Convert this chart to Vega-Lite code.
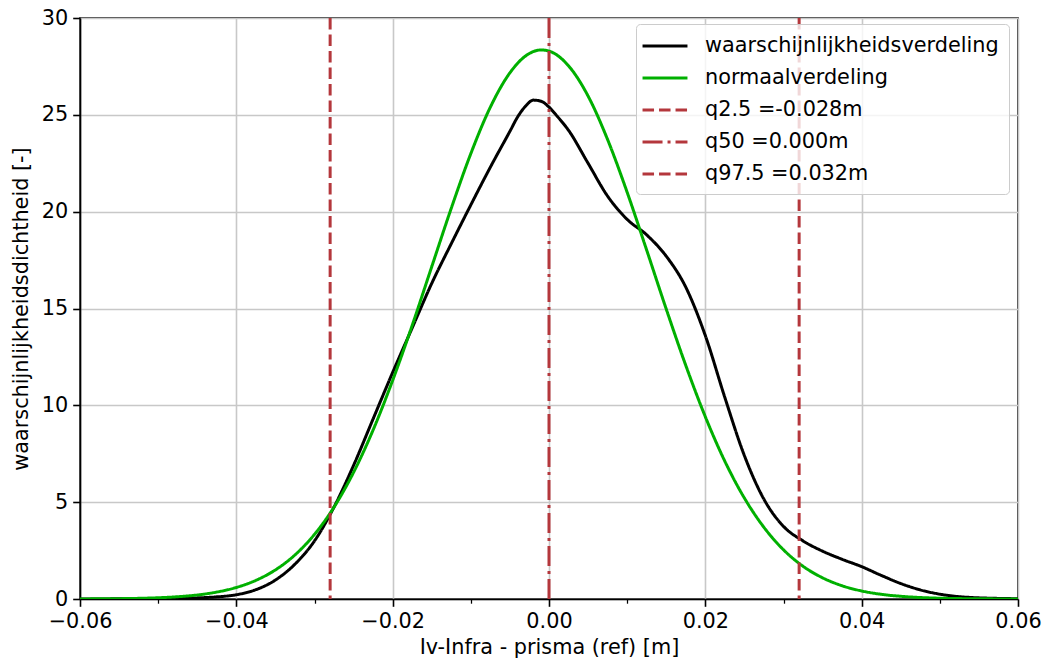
{
  "$schema": "https://vega.github.io/schema/vega-lite/v6.json",
  "width": 938,
  "height": 581,
  "autosize": {"type": "none"},
  "padding": {"left": 80, "top": 18, "right": 27, "bottom": 65},
  "background": "white",
  "config": {
    "view": {"stroke": "black", "strokeWidth": 1.6},
    "axis": {
      "domainColor": "black", "domainWidth": 1.6,
      "tickColor": "black", "tickWidth": 1.6,
      "gridColor": "#c8c8c8", "gridWidth": 1.6,
      "labelFont": "DejaVu Sans", "labelFontSize": 20.8, "labelColor": "black",
      "titleFont": "DejaVu Sans", "titleFontSize": 20.8, "titleFontWeight": "normal", "titleColor": "black"
    },
    "legend": {
      "orient": "none", "legendX": 556, "legendY": 6, "padding": 10,
      "fillColor": "rgba(255,255,255,0.8)", "strokeColor": "#cccccc", "cornerRadius": 4,
      "labelFont": "DejaVu Sans", "labelFontSize": 20.8, "labelColor": "black", "labelLimit": 500,
      "symbolType": "M-2.14,0L2.14,0", "symbolSize": 441, "symbolStrokeWidth": 3,
      "symbolOffset": 7, "labelOffset": 28, "rowPadding": 10
    }
  },
  "layer": [
    {
      "data": {"values": [
        {"series": "waarschijnlijkheidsverdeling", "x": -0.06, "y": 0.003},
        {"series": "waarschijnlijkheidsverdeling", "x": -0.0575, "y": 0.005},
        {"series": "waarschijnlijkheidsverdeling", "x": -0.055, "y": 0.008},
        {"series": "waarschijnlijkheidsverdeling", "x": -0.0525, "y": 0.013},
        {"series": "waarschijnlijkheidsverdeling", "x": -0.05, "y": 0.02},
        {"series": "waarschijnlijkheidsverdeling", "x": -0.0475, "y": 0.035},
        {"series": "waarschijnlijkheidsverdeling", "x": -0.045, "y": 0.06},
        {"series": "waarschijnlijkheidsverdeling", "x": -0.0425, "y": 0.11},
        {"series": "waarschijnlijkheidsverdeling", "x": -0.04, "y": 0.22},
        {"series": "waarschijnlijkheidsverdeling", "x": -0.0375, "y": 0.48},
        {"series": "waarschijnlijkheidsverdeling", "x": -0.035, "y": 0.98},
        {"series": "waarschijnlijkheidsverdeling", "x": -0.0325, "y": 1.8},
        {"series": "waarschijnlijkheidsverdeling", "x": -0.03, "y": 3.0},
        {"series": "waarschijnlijkheidsverdeling", "x": -0.0275, "y": 4.75},
        {"series": "waarschijnlijkheidsverdeling", "x": -0.025, "y": 6.9},
        {"series": "waarschijnlijkheidsverdeling", "x": -0.0225, "y": 9.3},
        {"series": "waarschijnlijkheidsverdeling", "x": -0.02, "y": 11.7},
        {"series": "waarschijnlijkheidsverdeling", "x": -0.0175, "y": 14.0},
        {"series": "waarschijnlijkheidsverdeling", "x": -0.015, "y": 16.3},
        {"series": "waarschijnlijkheidsverdeling", "x": -0.0125, "y": 18.35},
        {"series": "waarschijnlijkheidsverdeling", "x": -0.01, "y": 20.35},
        {"series": "waarschijnlijkheidsverdeling", "x": -0.0075, "y": 22.3},
        {"series": "waarschijnlijkheidsverdeling", "x": -0.005, "y": 24.15},
        {"series": "waarschijnlijkheidsverdeling", "x": -0.004, "y": 24.9},
        {"series": "waarschijnlijkheidsverdeling", "x": -0.003, "y": 25.45},
        {"series": "waarschijnlijkheidsverdeling", "x": -0.002, "y": 25.76},
        {"series": "waarschijnlijkheidsverdeling", "x": -0.001, "y": 25.7},
        {"series": "waarschijnlijkheidsverdeling", "x": 0.0, "y": 25.4},
        {"series": "waarschijnlijkheidsverdeling", "x": 0.001, "y": 24.95},
        {"series": "waarschijnlijkheidsverdeling", "x": 0.0025, "y": 24.2},
        {"series": "waarschijnlijkheidsverdeling", "x": 0.005, "y": 22.5},
        {"series": "waarschijnlijkheidsverdeling", "x": 0.0075, "y": 20.8},
        {"series": "waarschijnlijkheidsverdeling", "x": 0.01, "y": 19.6},
        {"series": "waarschijnlijkheidsverdeling", "x": 0.0125, "y": 18.8},
        {"series": "waarschijnlijkheidsverdeling", "x": 0.015, "y": 17.7},
        {"series": "waarschijnlijkheidsverdeling", "x": 0.0175, "y": 16.1},
        {"series": "waarschijnlijkheidsverdeling", "x": 0.02, "y": 13.6},
        {"series": "waarschijnlijkheidsverdeling", "x": 0.0225, "y": 10.4},
        {"series": "waarschijnlijkheidsverdeling", "x": 0.025, "y": 7.4},
        {"series": "waarschijnlijkheidsverdeling", "x": 0.0275, "y": 5.15},
        {"series": "waarschijnlijkheidsverdeling", "x": 0.03, "y": 3.75},
        {"series": "waarschijnlijkheidsverdeling", "x": 0.0325, "y": 3.0},
        {"series": "waarschijnlijkheidsverdeling", "x": 0.035, "y": 2.47},
        {"series": "waarschijnlijkheidsverdeling", "x": 0.0375, "y": 2.05},
        {"series": "waarschijnlijkheidsverdeling", "x": 0.04, "y": 1.67},
        {"series": "waarschijnlijkheidsverdeling", "x": 0.0425, "y": 1.22},
        {"series": "waarschijnlijkheidsverdeling", "x": 0.045, "y": 0.8},
        {"series": "waarschijnlijkheidsverdeling", "x": 0.0475, "y": 0.47},
        {"series": "waarschijnlijkheidsverdeling", "x": 0.05, "y": 0.25},
        {"series": "waarschijnlijkheidsverdeling", "x": 0.0525, "y": 0.12},
        {"series": "waarschijnlijkheidsverdeling", "x": 0.055, "y": 0.06},
        {"series": "waarschijnlijkheidsverdeling", "x": 0.0575, "y": 0.03},
        {"series": "waarschijnlijkheidsverdeling", "x": 0.06, "y": 0.015},
        {"series": "normaalverdeling", "x": -0.06, "y": 0.004},
        {"series": "normaalverdeling", "x": -0.0575, "y": 0.009},
        {"series": "normaalverdeling", "x": -0.055, "y": 0.017},
        {"series": "normaalverdeling", "x": -0.0525, "y": 0.034},
        {"series": "normaalverdeling", "x": -0.05, "y": 0.064},
        {"series": "normaalverdeling", "x": -0.0475, "y": 0.118},
        {"series": "normaalverdeling", "x": -0.045, "y": 0.208},
        {"series": "normaalverdeling", "x": -0.0425, "y": 0.358},
        {"series": "normaalverdeling", "x": -0.04, "y": 0.597},
        {"series": "normaalverdeling", "x": -0.0375, "y": 0.963},
        {"series": "normaalverdeling", "x": -0.035, "y": 1.503},
        {"series": "normaalverdeling", "x": -0.0325, "y": 2.276},
        {"series": "normaalverdeling", "x": -0.03, "y": 3.34},
        {"series": "normaalverdeling", "x": -0.0275, "y": 4.746},
        {"series": "normaalverdeling", "x": -0.025, "y": 6.54},
        {"series": "normaalverdeling", "x": -0.0225, "y": 8.73},
        {"series": "normaalverdeling", "x": -0.02, "y": 11.29},
        {"series": "normaalverdeling", "x": -0.0175, "y": 14.13},
        {"series": "normaalverdeling", "x": -0.015, "y": 17.16},
        {"series": "normaalverdeling", "x": -0.0125, "y": 20.18},
        {"series": "normaalverdeling", "x": -0.01, "y": 23.0},
        {"series": "normaalverdeling", "x": -0.0075, "y": 25.4},
        {"series": "normaalverdeling", "x": -0.005, "y": 27.17},
        {"series": "normaalverdeling", "x": -0.0025, "y": 28.17},
        {"series": "normaalverdeling", "x": -0.001, "y": 28.35},
        {"series": "normaalverdeling", "x": 0.0, "y": 28.29},
        {"series": "normaalverdeling", "x": 0.0025, "y": 27.53},
        {"series": "normaalverdeling", "x": 0.005, "y": 25.97},
        {"series": "normaalverdeling", "x": 0.0075, "y": 23.72},
        {"series": "normaalverdeling", "x": 0.01, "y": 21.0},
        {"series": "normaalverdeling", "x": 0.0125, "y": 18.01},
        {"series": "normaalverdeling", "x": 0.015, "y": 14.97},
        {"series": "normaalverdeling", "x": 0.0175, "y": 12.06},
        {"series": "normaalverdeling", "x": 0.02, "y": 9.41},
        {"series": "normaalverdeling", "x": 0.0225, "y": 7.11},
        {"series": "normaalverdeling", "x": 0.025, "y": 5.21},
        {"series": "normaalverdeling", "x": 0.0275, "y": 3.7},
        {"series": "normaalverdeling", "x": 0.03, "y": 2.54},
        {"series": "normaalverdeling", "x": 0.0325, "y": 1.69},
        {"series": "normaalverdeling", "x": 0.035, "y": 1.094},
        {"series": "normaalverdeling", "x": 0.0375, "y": 0.684},
        {"series": "normaalverdeling", "x": 0.04, "y": 0.415},
        {"series": "normaalverdeling", "x": 0.0425, "y": 0.243},
        {"series": "normaalverdeling", "x": 0.045, "y": 0.139},
        {"series": "normaalverdeling", "x": 0.0475, "y": 0.076},
        {"series": "normaalverdeling", "x": 0.05, "y": 0.041},
        {"series": "normaalverdeling", "x": 0.0525, "y": 0.021},
        {"series": "normaalverdeling", "x": 0.055, "y": 0.011},
        {"series": "normaalverdeling", "x": 0.0575, "y": 0.005},
        {"series": "normaalverdeling", "x": 0.06, "y": 0.002}
      ]},
      "mark": {"type": "line", "strokeWidth": 3, "interpolate": "monotone", "clip": true},
      "encoding": {
        "x": {
          "field": "x", "type": "quantitative",
          "scale": {"domain": [-0.06, 0.06], "nice": false, "zero": false},
          "axis": {
            "title": "Iv-Infra - prisma (ref) [m]",
            "values": [-0.06, -0.055, -0.05, -0.045, -0.04, -0.035, -0.03, -0.025, -0.02, -0.015, -0.01, -0.005, 0, 0.005, 0.01, 0.015, 0.02, 0.025, 0.03, 0.035, 0.04, 0.045, 0.05, 0.055, 0.06],
            "format": ".2f",
            "labelExpr": "abs(datum.value*50 - round(datum.value*50)) > 0.01 ? '' : datum.label",
            "labelOverlap": false, "labelFlush": false, "labelBound": false,
            "labelPadding": 5, "titlePadding": 6,
            "tickSize": {"condition": {"test": "abs(datum.value*50 - round(datum.value*50)) > 0.01", "value": 4.2}, "value": 7.3},
            "tickWidth": {"condition": {"test": "abs(datum.value*50 - round(datum.value*50)) > 0.01", "value": 1.25}, "value": 1.6},
            "gridOpacity": {"condition": {"test": "abs(datum.value*50 - round(datum.value*50)) > 0.01", "value": 0}, "value": 1}
          }
        },
        "y": {
          "field": "y", "type": "quantitative",
          "scale": {"domain": [0, 30], "nice": false},
          "axis": {
            "title": "waarschijnlijkheidsdichtheid [-]",
            "values": [0, 5, 10, 15, 20, 25, 30], "format": "d",
            "tickSize": 7.3, "labelPadding": 5, "titlePadding": 10
          }
        },
        "color": {
          "field": "series", "type": "nominal",
          "scale": {
            "domain": ["waarschijnlijkheidsverdeling", "normaalverdeling", "q2.5 =-0.028m", "q50 =0.000m", "q97.5 =0.032m"],
            "range": ["black", "#00b000", "#b4373c", "#b4373c", "#b4373c"]
          },
          "legend": {"title": null}
        },
        "strokeDash": {
          "field": "series", "type": "nominal",
          "scale": {
            "domain": ["waarschijnlijkheidsverdeling", "normaalverdeling", "q2.5 =-0.028m", "q50 =0.000m", "q97.5 =0.032m"],
            "range": [[1, 0], [1, 0], [11.5, 5], [20, 5, 3, 5], [11.5, 5]]
          },
          "legend": {"title": null}
        }
      }
    },
    {
      "data": {"values": [
        {"series": "q2.5 =-0.028m", "x": -0.028},
        {"series": "q50 =0.000m", "x": 0.0},
        {"series": "q97.5 =0.032m", "x": 0.032}
      ]},
      "mark": {"type": "rule", "strokeWidth": 3},
      "encoding": {
        "x": {"field": "x", "type": "quantitative"},
        "color": {"field": "series", "type": "nominal", "legend": {"title": null}},
        "strokeDash": {"field": "series", "type": "nominal", "legend": {"title": null}}
      }
    }
  ]
}
